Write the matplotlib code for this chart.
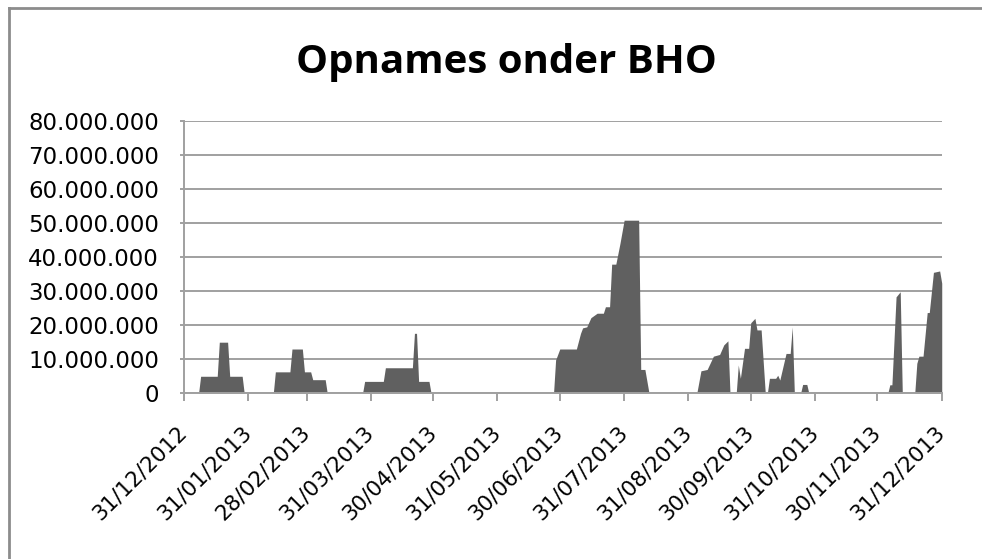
import matplotlib
matplotlib.use("Agg")
import matplotlib.pyplot as plt
import matplotlib.dates as mdates
from matplotlib.lines import Line2D
from matplotlib.ticker import FuncFormatter
import numpy as np

# opnames onder BHO (in miljoenen), punten waar het verloop verandert
dates = [
    "2013-01-07", "2013-01-08", "2013-01-16", "2013-01-17", "2013-01-21", "2013-01-22", "2013-01-28", "2013-01-29",
    "2013-02-12", "2013-02-13", "2013-02-20", "2013-02-21", "2013-02-26", "2013-02-27", "2013-03-02", "2013-03-03",
    "2013-03-09", "2013-03-10",
    "2013-03-27", "2013-03-28", "2013-04-06", "2013-04-07", "2013-04-20", "2013-04-21", "2013-04-22", "2013-04-23",
    "2013-04-28", "2013-04-29",
    "2013-06-27", "2013-06-28", "2013-06-30", "2013-07-08", "2013-07-10", "2013-07-11", "2013-07-13", "2013-07-15",
    "2013-07-18", "2013-07-21", "2013-07-22", "2013-07-24", "2013-07-25", "2013-07-27", "2013-07-29", "2013-07-31",
    "2013-08-07", "2013-08-08", "2013-08-10", "2013-08-12",
    "2013-09-04", "2013-09-06", "2013-09-09", "2013-09-12", "2013-09-15", "2013-09-17", "2013-09-19", "2013-09-20",
    "2013-09-23", "2013-09-24", "2013-09-25", "2013-09-27", "2013-09-29", "2013-09-30", "2013-10-02", "2013-10-03",
    "2013-10-05", "2013-10-07",
    "2013-10-08", "2013-10-09", "2013-10-12", "2013-10-13", "2013-10-14", "2013-10-17", "2013-10-19", "2013-10-20",
    "2013-10-21",
    "2013-10-24", "2013-10-25", "2013-10-27", "2013-10-28",
    "2013-12-05", "2013-12-06", "2013-12-07", "2013-12-09", "2013-12-11", "2013-12-12",
    "2013-12-18", "2013-12-19", "2013-12-20", "2013-12-22", "2013-12-24", "2013-12-25", "2013-12-27", "2013-12-30",
    "2013-12-31",
]
values = [
    0, 5.0, 5.0, 15.0, 15.0, 5.0, 5.0, 0,
    0, 6.3, 6.3, 13.0, 13.0, 6.3, 6.3, 4.0,
    4.0, 0,
    0, 3.5, 3.5, 7.5, 7.5, 17.6, 17.6, 3.5,
    3.5, 0,
    0, 9.8, 13.0, 13.0, 17.6, 19.2, 19.5, 22.2,
    23.5, 23.5, 25.4, 25.4, 37.9, 37.9, 44.0, 50.8,
    50.8, 7.0, 7.0, 0,
    0, 6.6, 7.0, 10.9, 11.4, 14.2, 15.4, 0,
    0, 8.3, 4.4, 13.2, 13.2, 20.7, 22.0, 18.6,
    18.6, 0,
    0, 4.4, 4.4, 5.3, 3.9, 11.7, 11.7, 19.5,
    0,
    0, 2.6, 2.6, 0,
    0, 2.5, 2.5, 28.3, 29.8, 0,
    0, 8.8, 10.9, 10.9, 23.7, 23.7, 35.5, 35.9,
    32.3,
]
month_ends = ["2012-12-31", "2013-01-31", "2013-02-28", "2013-03-31", "2013-04-30", "2013-05-31", "2013-06-30",
              "2013-07-31", "2013-08-31", "2013-09-30", "2013-10-31", "2013-11-30", "2013-12-31"]
y_ticks = [0, 10, 20, 30, 40, 50, 60, 70, 80]

x = np.array(dates, dtype="datetime64[D]")
y = np.array(values) * 1e6
xt = np.array(month_ends, dtype="datetime64[D]")

grey = "#A0A0A0"

fig = plt.figure(figsize=(9.82, 5.59), dpi=100)
ax = fig.add_axes([0.1874, 0.2964, 0.7716, 0.4877])

ax.fill_between(x, y, 0, color="#606060", linewidth=0)

ax.set_xlim(xt[0], xt[-1])
ax.set_ylim(0, 80e6)
ax.set_xticks(xt)
ax.xaxis.set_major_formatter(mdates.DateFormatter("%d/%m/%Y"))
ax.set_yticks(np.array(y_ticks) * 1e6)
ax.yaxis.set_major_formatter(FuncFormatter(lambda v, p: f"{int(round(v)):,}".replace(",", ".")))

ax.grid(axis="y", color=grey, linewidth=1.4)
ax.set_axisbelow(True)
for s in ["top", "right"]:
    ax.spines[s].set_visible(False)
for s in ["left", "bottom"]:
    ax.spines[s].set_color(grey)
    ax.spines[s].set_linewidth(1.4)

ax.tick_params(axis="y", length=3, width=1.4, color=grey, pad=15, labelsize=16.5)
ax.tick_params(axis="x", length=6, width=1.4, color=grey, pad=20, labelsize=15.5)
for lab in ax.get_xticklabels():
    lab.set_rotation(45)
    lab.set_ha("right")
    lab.set_va("center")
    lab.set_rotation_mode("anchor")

fig.text(0.5158, 0.870, "Opnames onder BHO", ha="center", va="baseline",
         fontsize=29, fontweight="bold", family="Open Sans")

# rand van het grafiekgebied
fig.add_artist(Line2D([9 / 982, 9 / 982], [0, 1 - 8 / 559], color="#8C8C8C", linewidth=2))
fig.add_artist(Line2D([9 / 982, 1], [1 - 8 / 559, 1 - 8 / 559], color="#8C8C8C", linewidth=2))

fig.savefig("out.png", dpi=100)
